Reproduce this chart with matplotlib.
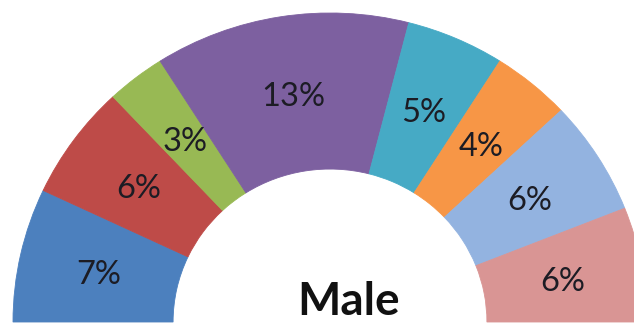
import matplotlib
matplotlib.use("Agg")
import matplotlib.pyplot as plt

# Share of male respondents by category (visible half of a 100% ring)
categories = ["Cat A", "Cat B", "Cat C", "Cat D", "Cat E", "Cat F", "Cat G", "Cat H"]
values = [7, 6, 3, 13, 5, 4, 6, 6]
hidden_half = 50
colors = ["#4C80BE", "#BE4B48", "#98B954", "#7D60A0",
          "#46AAC5", "#F79646", "#93B3E0", "#D99594"]
center_label = "Male"

W, H, DPI = 634, 324, 100
fig = plt.figure(figsize=(W / DPI, H / DPI), dpi=DPI)
ax = fig.add_axes([0, 0, 1, 1])

ring_width = 0.505
wedges, _, autotexts = ax.pie(
    values + [hidden_half],
    colors=colors + ["none"],
    startangle=180,
    counterclock=False,
    radius=1.0,
    autopct=lambda p: f"{p:.0f}%" if p < 40 else "",
    pctdistance=1.0 - ring_width / 2,
    wedgeprops=dict(width=ring_width, linewidth=0.6),
    textprops=dict(fontsize=23.5, color="#1c1c24",
                   family=["Lato", "DejaVu Sans"]),
)
for w, c in zip(wedges, colors + ["none"]):
    w.set_edgecolor(c)
for t in autotexts:
    t.set_verticalalignment("center_baseline")

ax.text(0.06, 0.0227, center_label, ha="center", va="baseline",
        fontsize=33, fontweight="bold", color="#111111",
        family=["Lato", "DejaVu Sans"])

ax.set_aspect("auto")
ax.set_xlim(-330 / 317, (634 - 330) / 317)
ax.set_ylim(-2 / 309, 322 / 309)
ax.axis("off")

fig.savefig("out.png", dpi=DPI, facecolor="white")
